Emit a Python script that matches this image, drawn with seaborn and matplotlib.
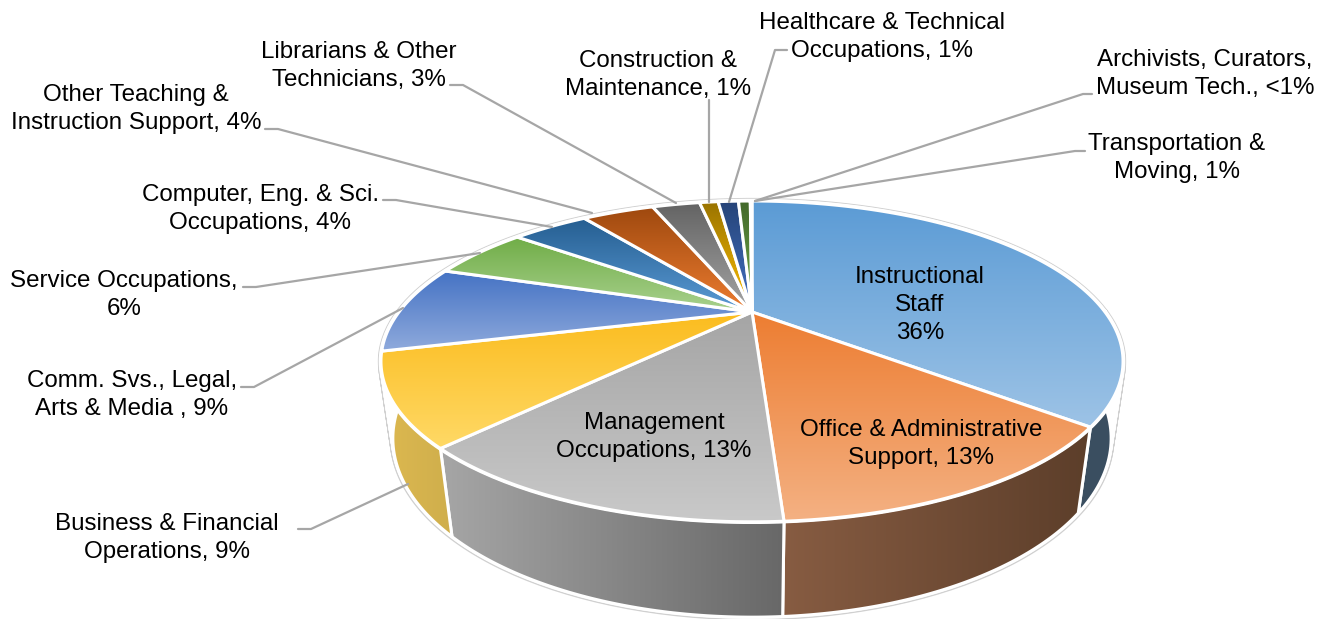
import numpy as np
import seaborn as sns
import matplotlib
matplotlib.use("Agg")
import matplotlib.pyplot as plt
from matplotlib.path import Path
from matplotlib.patches import PathPatch

# slice values, clockwise from 12 o'clock
share = [36, 13, 13, 9, 9, 5.5, 4.4, 4.2, 2.8, 1.1, 1.2, 0.7, 0.1]
top_dark = ['#5B9BD5', '#ED7D31', '#A5A5A5', '#FBBC1E', '#4472C4', '#70AD47',
            '#255E91', '#9E480E', '#636363', '#997300', '#264478', '#43682B', '#7CAFDD']
top_light = ['#9DC3E6', '#F4B183', '#C9C9C9', '#FFD966', '#8FAADC', '#A9D18E',
             '#5B9BD5', '#ED7D31', '#A5A5A5', '#FFC000', '#4472C4', '#70AD47', '#9DC3E6']
wall_left = {0: '#3C5166', 1: '#875C42', 2: '#A6A6A6', 3: '#DDB950'}
wall_right = {0: '#3A4E60', 1: '#5C3E2A', 2: '#686868', 3: '#CFAE4C'}

inside_labels = ['Instructional\nStaff\n36%',
                 'Office & Administrative\nSupport, 13%',
                 'Management\nOccupations, 13%']
outside_labels = ['Business & Financial\nOperations, 9%',
                  'Comm. Svs., Legal,\nArts & Media , 9%',
                  'Service Occupations,\n6%',
                  'Computer, Eng. & Sci.\nOccupations, 4%',
                  'Other Teaching &\nInstruction Support, 4%',
                  'Librarians & Other\nTechnicians, 3%',
                  'Construction &\nMaintenance, 1%',
                  'Healthcare & Technical\nOccupations, 1%',
                  'Archivists, Curators,\nMuseum Tech., <1%',
                  'Transportation &\nMoving, 1%']

# layout in pixels
inside_pos = [(920, 305), (921, 444), (654, 437)]
outside_pos = [(167, 538), (132, 395), (124, 295), (260, 209), (136, 109),
               (359, 66), (658, 75), (882, 37), (1205, 74), (1177, 158)]
leaders = [[(298, 529), (311, 529), (408, 484)],
           [(241, 387), (254, 387), (403, 308)],
           [(243, 287), (256, 287), (480, 253)],
           [(383, 200), (396, 200), (552, 227)],
           [(265, 129), (278, 129), (592, 213)],
           [(450, 85), (463, 85), (676, 203)],
           [(709, 100), (709, 202)],
           [(787, 50), (775, 50), (729, 202)],
           [(1092, 94), (1083, 94), (755, 201)],
           [(1085, 151), (1075, 151), (755, 201)]]

sns.set_theme(style='white')
plt.rcParams['font.family'] = ['Liberation Sans', 'DejaVu Sans']

fig = plt.figure(figsize=(13.28, 6.19), dpi=100)
ax = fig.add_axes([0, 0, 1, 1])

wedges, _ = ax.pie(share, startangle=90, counterclock=False)
angles = [(w.theta1, w.theta2) for w in wedges]
for w in wedges:
    w.set_visible(False)


def project(theta, radius=1.0, z=0.0):
    # perspective view of the flat pie, z = 1 is the bottom of the disc
    x = radius * np.cos(np.radians(theta))
    y = radius * np.sin(np.radians(theta))
    w = 1 + 0.308 * y + 0.03 * z
    return 752 + 353 * x / w, (-49.1 * y + 312 + 84.5 * z) / w


def fill_gradient(path, c0, c1, vertical=True):
    box = path.get_extents()
    grad = np.linspace(0, 1, 256).reshape(-1, 1) if vertical else np.linspace(0, 1, 256).reshape(1, -1)
    cmap = sns.blend_palette([c0, c1], as_cmap=True)
    im = ax.imshow(grad, cmap=cmap, aspect='auto', origin='upper', zorder=3,
                   extent=(box.x0, box.x1, box.y1, box.y0))
    im.set_clip_path(PathPatch(path, transform=ax.transData))
    ax.add_patch(PathPatch(path, fc='none', ec='white', lw=2.2, zorder=3, joinstyle='round'))


# thin grey outline around the whole disc
full = np.linspace(0, 360, 361)
for col, lw in (('#D0D0D0', 4.5), ('white', 2.6)):
    for z in np.linspace(0, 1, 50):
        ax.plot(*project(full, z=z), color=col, lw=lw, zorder=1)

# side walls, only the front four slices can be seen
for i in wall_left:
    # the left wall runs on under the top so its back edge stays hidden
    a = angles[i][0] - (15 if i == 3 else 0)
    t = np.linspace(a, angles[i][1], 120)
    xt, yt = project(t)
    xb, yb = project(t[::-1], z=1)
    wall = Path(np.column_stack([np.r_[xt, xb, xt[0]], np.r_[yt, yb, yt[0]]]), closed=True)
    fill_gradient(wall, wall_left[i], wall_right[i], vertical=False)

ax.plot(*project(full), color='white', lw=3.2, zorder=3)

# top of the pie
for i, (a, b) in enumerate(angles):
    t = np.linspace(a, b, 120)
    xt, yt = project(t)
    cx, cy = project(0, radius=0)
    top = Path(np.column_stack([np.r_[cx, xt, cx], np.r_[cy, yt, cy]]), closed=True)
    fill_gradient(top, top_dark[i], top_light[i])

for pts in leaders:
    ax.plot(*zip(*pts), color='#A6A6A6', lw=1.6, zorder=4)

for txt, (px, py) in zip(inside_labels + outside_labels, inside_pos + outside_pos):
    ax.text(px, py, txt, ha='center', va='center', fontsize=17.4, color='black',
            linespacing=1.37, zorder=5)

ax.set_aspect('auto')
ax.set_xlim(0, 1328)
ax.set_ylim(619, 0)
ax.axis('off')
fig.savefig('out.png', dpi=100)
